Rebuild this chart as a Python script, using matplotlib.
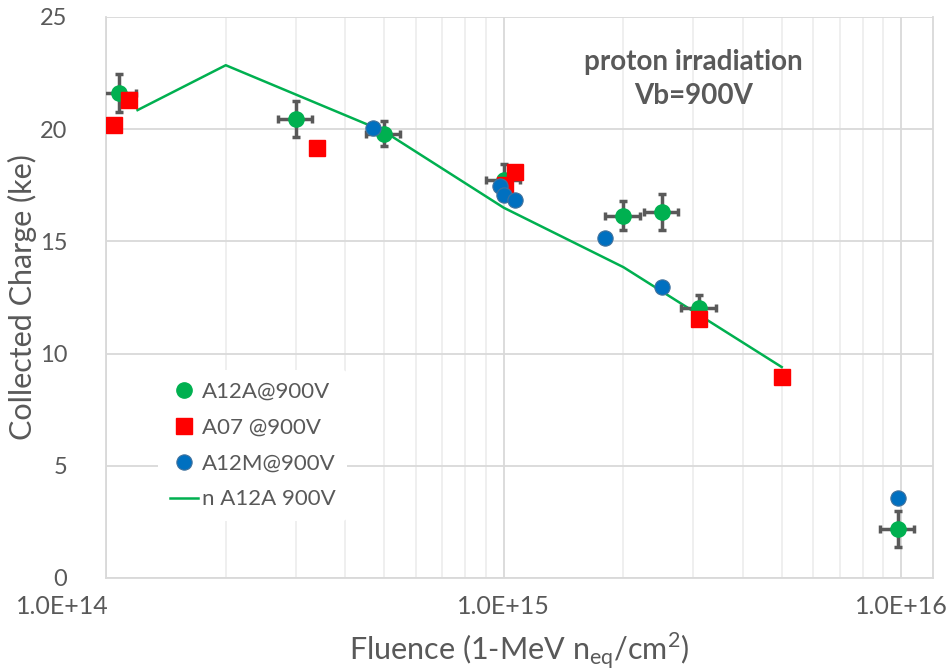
import numpy as np
import matplotlib.pyplot as plt
from matplotlib.ticker import FixedLocator, NullFormatter, LogLocator
from matplotlib.transforms import ScaledTranslation

plt.rcParams["font.family"] = ["Lato", "DejaVu Sans"]

# A12A@900V (proton), with error bars
a12a_f = [1.08e14, 3.0e14, 5.0e14, 1.0e15, 2.0e15, 2.5e15, 3.1e15, 9.8e15]
a12a_q = [21.6, 20.45, 19.8, 17.75, 16.15, 16.3, 12.05, 2.2]
a12a_qerr = [0.85, 0.8, 0.55, 0.7, 0.65, 0.8, 0.55, 0.8]
a12a_ferr_rel = 0.10

# A07 @900V
a07_f = [1.05e14, 1.14e14, 3.4e14, 1.01e15, 1.07e15, 3.1e15, 5.0e15]
a07_q = [20.2, 21.3, 19.15, 17.5, 18.1, 11.55, 8.95]

# A12M@900V
a12m_f = [4.7e14, 9.8e14, 1.0e15, 1.07e15, 1.8e15, 2.5e15, 9.8e15]
a12m_q = [20.05, 17.45, 17.05, 16.85, 15.15, 12.95, 3.55]

# n A12A 900V (neutron curve)
n_f = [1.2e14, 2.0e14, 5.0e14, 1.0e15, 2.0e15, 5.0e15]
n_q = [20.85, 22.85, 19.9, 16.5, 13.85, 9.4]

xticks = [1e14, 1e15, 1e16]
xtick_labels = ["1.0E+14", "1.0E+15", "1.0E+16"]
yticks = [0, 5, 10, 15, 20, 25]

green = "#00B050"
red = "#FF0000"
blue = "#0070C0"
txt = "#595959"

fig = plt.figure(figsize=(9.51, 6.71), dpi=100)
ax = fig.add_axes([0.1115, 0.1386, 0.8695, 0.8361])

ax.set_xscale("log")
ax.set_xlim(1e14, 1.2e16)
ax.set_ylim(0, 25)

# grid
ax.xaxis.set_major_locator(FixedLocator(xticks))
ax.xaxis.set_minor_locator(LogLocator(base=10, subs=np.arange(2, 10)))
ax.xaxis.set_minor_formatter(NullFormatter())
ax.set_xticks(xticks)
ax.set_xticklabels(xtick_labels, fontsize=18, color=txt)
ax.set_yticks(yticks)
ax.set_yticklabels([str(v) for v in yticks], fontsize=17, color=txt)
ax.grid(which="major", axis="both", color="#d9d9d9", lw=1.3)
ax.grid(which="minor", axis="x", color="#eeeeee", lw=1.3)
ax.set_axisbelow(True)

ax.spines["top"].set_visible(False)
for s in ["left", "bottom", "right"]:
    ax.spines[s].set_color("#d9d9d9")
    ax.spines[s].set_linewidth(1.3)

ax.tick_params(which="both", length=0)
ax.tick_params(axis="x", pad=12)
ax.tick_params(axis="y", pad=28)

# shift first x label left like Excel does
lbls = ax.get_xticklabels()
lbls[0].set_transform(lbls[0].get_transform() + ScaledTranslation(-0.44, 0, fig.dpi_scale_trans))

ax.plot(n_f, n_q, color=green, lw=1.8, label="n A12A 900V", zorder=2)

a12a_f = np.array(a12a_f)
ax.errorbar(a12a_f, a12a_q, xerr=a12a_f * a12a_ferr_rel, yerr=a12a_qerr,
            fmt="o", color=green, ms=11, mec=green, ecolor="#595959",
            elinewidth=2.5, capsize=3, capthick=2.5, zorder=3,
            label="A12A@900V")
ax.plot(a07_f, a07_q, "s", color=red, ms=11.5, mec=red, ls="none",
        zorder=4, label="A07 @900V")
ax.plot(a12m_f, a12m_q, "o", color=blue, ms=11, mec="#41719c", mew=0.8,
        ls="none", zorder=5, label="A12M@900V")

ax.text(0.71, 0.889, "proton irradiation\nVb=900V", transform=ax.transAxes,
        ha="center", va="center", fontsize=20, fontweight="bold",
        color=txt, linespacing=1.4)

ax.set_ylabel("Collected Charge (ke)", fontsize=22, color=txt)
ax.yaxis.set_label_coords(-0.084, 0.5)
ax.set_xlabel("Fluence (1-MeV n$_{\\mathregular{eq}}$/cm$^{\\mathregular{2}}$)",
              fontsize=22, color=txt)
ax.xaxis.set_label_coords(0.5, -0.092)

h, l = ax.get_legend_handles_labels()
order = [l.index(k) for k in ["A12A@900V", "A07 @900V", "A12M@900V", "n A12A 900V"]]
h2 = []
for i in order:
    hh = h[i]
    if l[i] == "A12A@900V":
        hh = plt.Line2D([], [], marker="o", color=green, ls="none", ms=11)
    h2.append(hh)
leg = ax.legend(h2, [l[i] for i in order], loc="upper left",
                bbox_to_anchor=(0.05, 0.39), frameon=True, facecolor="white",
                edgecolor="none", framealpha=1, fontsize=16, labelspacing=0.72,
                handlelength=1.3, handletextpad=0.15, borderpad=0.5)
for t in leg.get_texts():
    t.set_color(txt)

fig.savefig("out.png", dpi=100)
